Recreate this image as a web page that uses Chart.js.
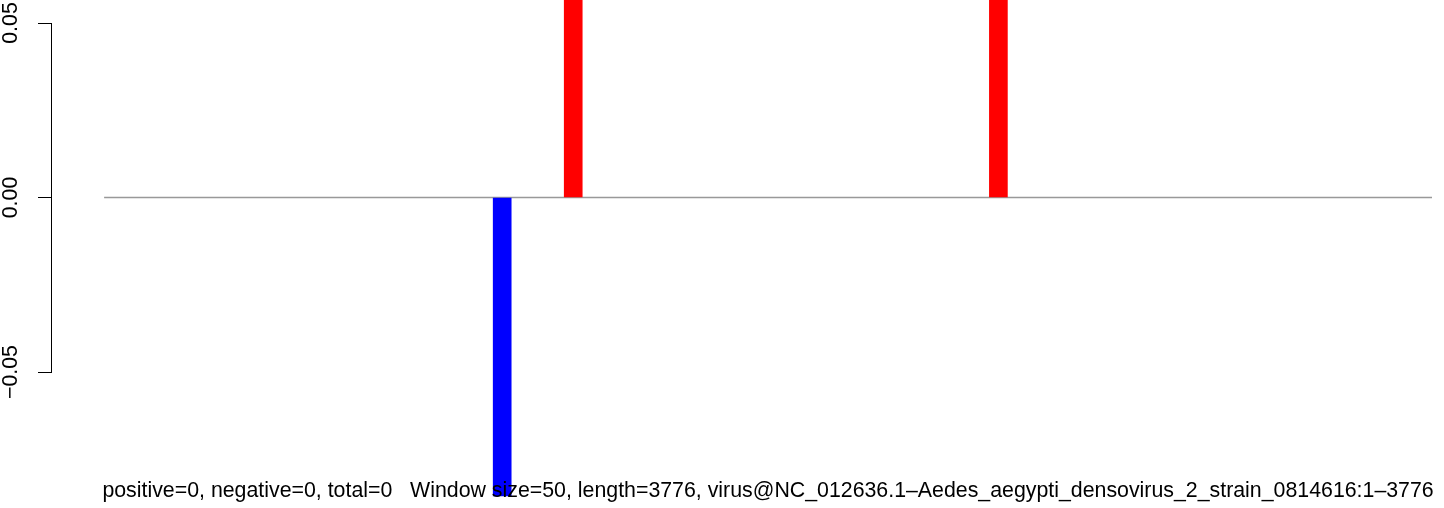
<!DOCTYPE html>
<html>
<head>
<meta charset="utf-8">
<script src="https://cdn.jsdelivr.net/npm/chart.js@4"></script>
<style>
html, body { margin: 0; padding: 0; background: #fff; }
#wrap { width: 1444px; height: 508px; }
</style>
</head>
<body>
<div id="wrap"><canvas id="graph"></canvas></div>
<script>
// window centres (genome position) and values
const genomeLength = 3776;
const positivePositions = [1334, 2543];
const positiveValues = [0.1, 0.1];
const negativePositions = [1132];
const negativeValues = [-0.0855];
const baseline = [0, genomeLength];
const yTicks = [-0.05, 0, 0.05];
const footerText = 'positive=0, negative=0, total=0   Window size=50, length=3776, virus@NC_012636.1\u2013Aedes_aegypti_densovirus_2_strain_0814616:1\u20133776';

const font = 'Liberation Sans, Arial, Helvetica, sans-serif';

const footer = {
    id: 'footer',
    afterDraw(chart) {
        const ctx = chart.ctx;
        const x0 = chart.scales.x.getPixelForValue(0);
        const x1 = chart.scales.x.getPixelForValue(genomeLength);
        ctx.save();
        ctx.font = '21.33px ' + font;
        ctx.fillStyle = '#000';
        ctx.textAlign = 'center';
        ctx.textBaseline = 'alphabetic';
        ctx.fillText(footerText, (x0 + x1) / 2, 497);
        ctx.restore();
    }
};

const fmt = v => {
    const s = Math.abs(v).toFixed(2);
    return v < 0 ? '\u2212' + s : s;
};

new Chart(document.getElementById('graph'), {
    data: {
        datasets: [{
            type: 'line',
            data: baseline.map(x => ({x: x, y: 0})),
            borderColor: '#999999',
            borderWidth: 1.5,
            pointRadius: 0,
            clip: false,
            order: 3
        }, {
            type: 'bar',
            data: positivePositions.map((x, i) => ({x: x, y: positiveValues[i]})),
            backgroundColor: '#ff0000',
            barThickness: 18,
            grouped: false,
            clip: false,
            order: 1
        }, {
            type: 'bar',
            data: negativePositions.map((x, i) => ({x: x, y: negativeValues[i]})),
            backgroundColor: '#0000ff',
            barThickness: 18,
            grouped: false,
            clip: false,
            order: 2
        }]
    },
    options: {
        responsive: true,
        maintainAspectRatio: false,
        animation: false,
        events: [],
        layout: { padding: { top: 23, bottom: 136, left: 0, right: 12 } },
        plugins: { legend: { display: false }, tooltip: { enabled: false } },
        scales: {
            x: {
                type: 'linear',
                min: -151,
                max: genomeLength,
                offset: false,
                display: false
            },
            y: {
                type: 'linear',
                position: 'left',
                min: -0.05,
                max: 0.05,
                afterFit: s => { s.width = 51; },
                afterBuildTicks: s => { s.ticks = yTicks.map(v => ({value: v})); },
                grid: { drawOnChartArea: false, tickLength: 13, color: '#000', lineWidth: 1 },
                border: { display: true, color: '#000', width: 1 },
                ticks: {
                    minRotation: 90,
                    maxRotation: 90,
                    crossAlign: 'center',
                    padding: 0,
                    color: '#000',
                    font: { family: font, size: 21.33 },
                    callback: v => fmt(v)
                }
            }
        }
    },
    plugins: [footer]
});
</script>
</body>
</html>
